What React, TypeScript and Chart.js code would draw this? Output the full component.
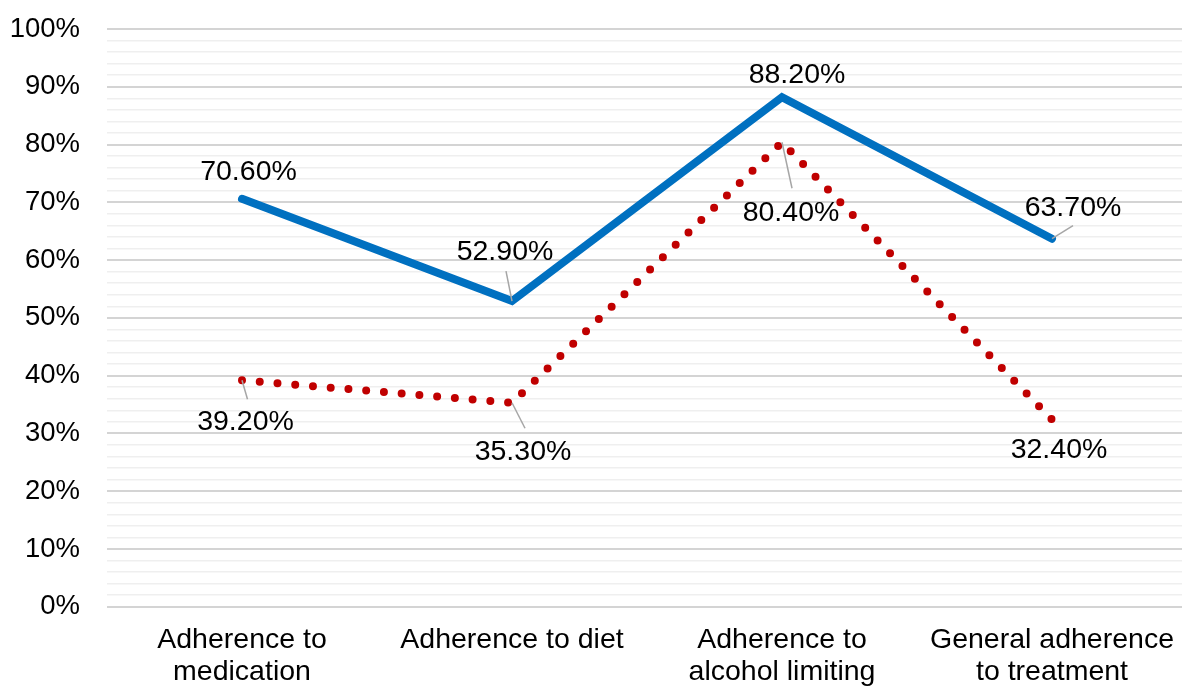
import React, { useEffect, useRef } from "react";
import { Chart, registerables } from "chart.js";

Chart.register(...registerables);

const categories: string[][] = [
  ["Adherence to", "medication"],
  ["Adherence to diet"],
  ["Adherence to", "alcohol limiting"],
  ["General adherence", "to treatment"],
];
const seriesBlue: number[] = [70.6, 52.9, 88.2, 63.7];
const seriesRed: number[] = [39.2, 35.3, 80.4, 32.4];
const yTickValues: number[] = [0, 10, 20, 30, 40, 50, 60, 70, 80, 90, 100];

const FONT = "'Liberation Sans', Arial, sans-serif";

// label placement (text centre x, baseline y relative to point) and leader end offsets
const labelStyles = [
  [
    { dx: 6.5, dy: -18.6, leader: null },
    { dx: -7, dy: -41, leader: [-6, -30] },
    { dx: 15, dy: -14.5, leader: null },
    { dx: 21, dy: -22.5, leader: [21, -13] },
  ],
  [
    { dx: 3.5, dy: 50, leader: [5.5, 19] },
    { dx: 11, dy: 57.4, leader: [13, 25.5] },
    { dx: 9, dy: 79, leader: [10, 46] },
    { dx: 7, dy: 38.7, leader: null },
  ],
];

const labelPlugin = {
  id: "valueLabels",
  afterDatasetsDraw(chart: any) {
    const ctx = chart.ctx;
    ctx.save();
    chart.data.datasets.forEach((ds: any, di: number) => {
      const meta = chart.getDatasetMeta(di);
      meta.data.forEach((pt: any, i: number) => {
        const st = labelStyles[di][i];
        if (st.leader) {
          ctx.strokeStyle = "#a6a6a6";
          ctx.lineWidth = 1.5;
          ctx.beginPath();
          ctx.moveTo(pt.x, pt.y);
          ctx.lineTo(pt.x + st.leader[0], pt.y + st.leader[1]);
          ctx.stroke();
        }
        ctx.fillStyle = "#000";
        ctx.font = `28.5px ${FONT}`;
        ctx.textAlign = "center";
        ctx.textBaseline = "alphabetic";
        ctx.fillText(ds.data[i].toFixed(2) + "%", pt.x + st.dx, pt.y + st.dy);
      });
    });
    ctx.restore();
  },
};

export default function App() {
  const ref = useRef<HTMLCanvasElement>(null);
  useEffect(() => {
    if (!ref.current) return;
    const chart = new Chart(ref.current, {
      type: "line",
      data: {
        labels: categories,
        datasets: [
          {
            label: "Series 1",
            data: seriesBlue,
            borderColor: "#0070C0",
            backgroundColor: "#0070C0",
            borderWidth: 8,
            borderJoinStyle: "miter",
            borderCapStyle: "round",
            pointRadius: 0,
            tension: 0,
          },
          {
            label: "Series 2",
            data: seriesRed,
            borderColor: "#C00000",
            backgroundColor: "#C00000",
            borderWidth: 8,
            borderDash: [0, 17.8],
            borderCapStyle: "round",
            borderJoinStyle: "round",
            pointRadius: 0,
            tension: 0,
          },
        ],
      },
      options: {
        animation: false,
        responsive: false,
        maintainAspectRatio: false,
        layout: { padding: { top: 29, left: 0, right: 0, bottom: 0 } },
        plugins: {
          legend: { display: false },
          tooltip: { enabled: false },
        },
        scales: {
          x: {
            offset: true,
            grid: { display: false, drawTicks: false },
            border: { display: false },
            ticks: {
              color: "#000",
              padding: 18,
              font: { family: FONT, size: 28.5, lineHeight: 1.1 },
              maxRotation: 0,
              autoSkip: false,
            },
            afterFit: (s: any) => {
              s.height = 81.3;
              s.paddingLeft = 0;
              s.paddingRight = 0;
            },
          },
          y: {
            min: 0,
            max: 100,
            border: { display: false },
            grid: {
              drawTicks: false,
              color: (c: any) =>
                yTickValues.includes(Math.round(c.tick.value)) ? "#d4d4d4" : "#efefef",
              lineWidth: (c: any) =>
                yTickValues.includes(Math.round(c.tick.value)) ? 2 : 1.5,
            },
            ticks: {
              stepSize: 2,
              autoSkip: false,
              padding: 27,
              color: "#000",
              font: { family: FONT, size: 27.5 },
              callback: (v: any) =>
                yTickValues.includes(Math.round(Number(v))) ? `${v}%` : "",
            },
            afterFit: (s: any) => {
              s.width = 107;
              s.paddingTop = 0;
              s.paddingBottom = 0;
            },
          },
        },
      },
      plugins: [labelPlugin],
    });
    return () => chart.destroy();
  }, []);
  return (
    <div
      style={{
        position: "fixed",
        left: 0,
        top: 0,
        width: 1182,
        height: 688,
        overflow: "hidden",
        background: "#fff",
      }}
    >
      <canvas ref={ref} width={1187} height={688} style={{ display: "block" }} />
    </div>
  );
}
